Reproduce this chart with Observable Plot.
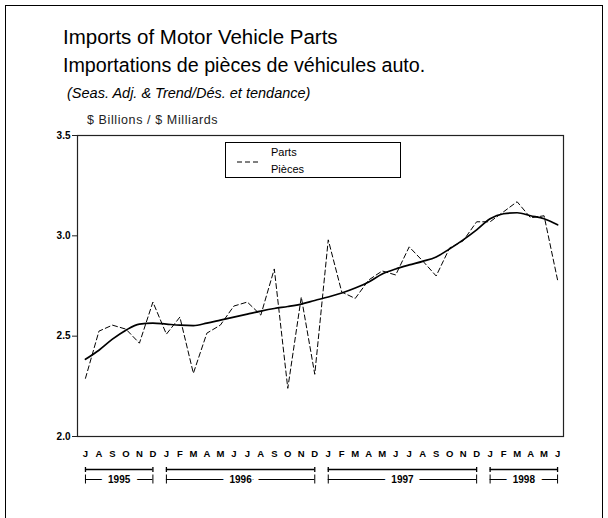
<!DOCTYPE html>
<html><head><meta charset="utf-8">
<script src="https://cdn.jsdelivr.net/npm/d3@7"></script>
<script src="https://cdn.jsdelivr.net/npm/@observablehq/plot@0.6"></script>
<style>
body{margin:0;background:#fff;font-family:"Liberation Sans",Arial,sans-serif;}
#wrap{position:relative;width:608px;height:518px;overflow:hidden;background:#fff;}
#border{position:absolute;left:5px;top:5px;width:598px;height:600px;box-sizing:border-box;border:1.5px solid #000;}
.t{position:absolute;white-space:nowrap;line-height:1;color:#000;}
#chart{position:absolute;left:0;top:110px;}
#legend{position:absolute;left:225px;top:142px;width:176px;height:36px;box-sizing:border-box;border:1px solid #000;background:#fff;}
#legend .lt{position:absolute;left:45px;font-size:11px;line-height:1;white-space:nowrap;}
#legend svg{position:absolute;left:11px;top:17px;}
</style></head><body>
<div id="wrap">
  <div id="border"></div>
  <div class="t" style="left:63px;top:27px;font-size:20.5px">Imports of Motor Vehicle Parts</div>
  <div class="t" style="left:63px;top:56px;font-size:19.7px">Importations de pièces de véhicules auto.</div>
  <div class="t" style="left:67px;top:86px;font-size:14.5px;font-style:italic">(Seas. Adj. &amp; Trend/Dés. et tendance)</div>
  <div class="t" style="left:87px;top:114px;font-size:12.5px;letter-spacing:0.6px;color:#222">$ Billions / $ Milliards</div>
  <div id="chart"></div>
  <div id="legend">
    <svg width="26" height="4"><line x1="0" y1="2" x2="24" y2="2" stroke="#000" stroke-width="1" stroke-dasharray="5,3"/></svg>
    <div class="lt" style="top:4px">Parts</div>
    <div class="lt" style="top:21px">Pièces</div>
  </div>
</div>
<script>
const months = ["J","A","S","O","N","D",
  "J","F","M","A","M","J","J","A","S","O","N","D",
  "J","F","M","A","M","J","J","A","S","O","N","D",
  "J","F","M","A","M","J"];
const parts = [2.29, 2.525, 2.555, 2.535, 2.465, 2.67,
  2.51, 2.595, 2.315, 2.515, 2.555, 2.65, 2.67, 2.605, 2.835, 2.24, 2.695, 2.31,
  2.98, 2.72, 2.688, 2.78, 2.825, 2.805, 2.945, 2.875, 2.80, 2.94, 2.975, 3.07,
  3.07, 3.12, 3.17, 3.09, 3.10, 2.78];
const trend = [2.385, 2.43, 2.485, 2.53, 2.56, 2.565,
  2.56, 2.555, 2.553, 2.565, 2.58, 2.595, 2.61, 2.625, 2.638, 2.648, 2.66, 2.678,
  2.695, 2.715, 2.74, 2.77, 2.81, 2.835, 2.855, 2.873, 2.895, 2.935, 2.98, 3.03,
  3.085, 3.11, 3.115, 3.10, 3.085, 3.055];
const years = ["1995","1996","1997","1998"];
const yearStart = [0, 6, 18, 30];
const yearEnd = [5, 17, 29, 35];
const yTicks = [2.0, 2.5, 3.0, 3.5];

const idx = months.map((m, i) => i);
const yi = years.map((y, i) => i);
const ends = yi.flatMap(i => [yearStart[i], yearEnd[i]]);
const yMin = yTicks[0];

const plot = Plot.plot({
  width: 608, height: 408,
  marginLeft: 77, marginRight: 45, marginTop: 25, marginBottom: 82,
  x: {domain: [-0.59, 35.44]},
  y: {domain: [yTicks[0], yTicks[yTicks.length - 1]]},
  style: {fontFamily: "'Liberation Sans', Arial, sans-serif", background: "transparent", color: "#000", overflow: "visible"},
  marks: [
    Plot.frame({stroke: "#222", strokeWidth: 1.2}),
    Plot.axisY({ticks: yTicks, tickFormat: d3.format(".1f"), tickSize: 5, tickPadding: 2, fontSize: 10, fontWeight: "bold", label: null, stroke: "#222"}),
    Plot.axisX({ticks: idx, tickFormat: i => months[i], tickSize: 0, tickPadding: 14, fontSize: 9.5, fontWeight: "bold", label: null}),
    Plot.line(idx, {x: i => i, y: i => parts[i], stroke: "#000", strokeWidth: 1, strokeDasharray: "5,3"}),
    Plot.line(idx, {x: i => i, y: i => trend[i], stroke: "#000", strokeWidth: 1.7, curve: "monotone-x"}),
    Plot.ruleY(yi, {x1: i => yearStart[i], x2: i => yearEnd[i], y: () => yMin, dy: 43, stroke: "#000", strokeWidth: 1}),
    Plot.text(yi, {x: i => (yearStart[i] + yearEnd[i]) / 2, y: () => yMin, dy: 43, text: i => years[i], fontSize: 10, fontWeight: "bold", fill: "#000", stroke: "#fff", strokeWidth: 14}),
    Plot.ruleY(yi, {x1: i => yearStart[i], x2: i => yearEnd[i], y: () => yMin, dy: 33, stroke: "#000", strokeWidth: 1.3}),
    Plot.ruleX(ends, {x: d => d, y1: () => yMin, y2: () => yMin, insetBottom: -5, dy: 31, stroke: "#000", strokeWidth: 1.3}),
    Plot.ruleX(ends, {x: d => d, y1: () => yMin, y2: () => yMin, insetBottom: -9, dy: 38.5, stroke: "#000", strokeWidth: 1})
  ]
});
document.getElementById("chart").appendChild(plot);
</script>
</body></html>
